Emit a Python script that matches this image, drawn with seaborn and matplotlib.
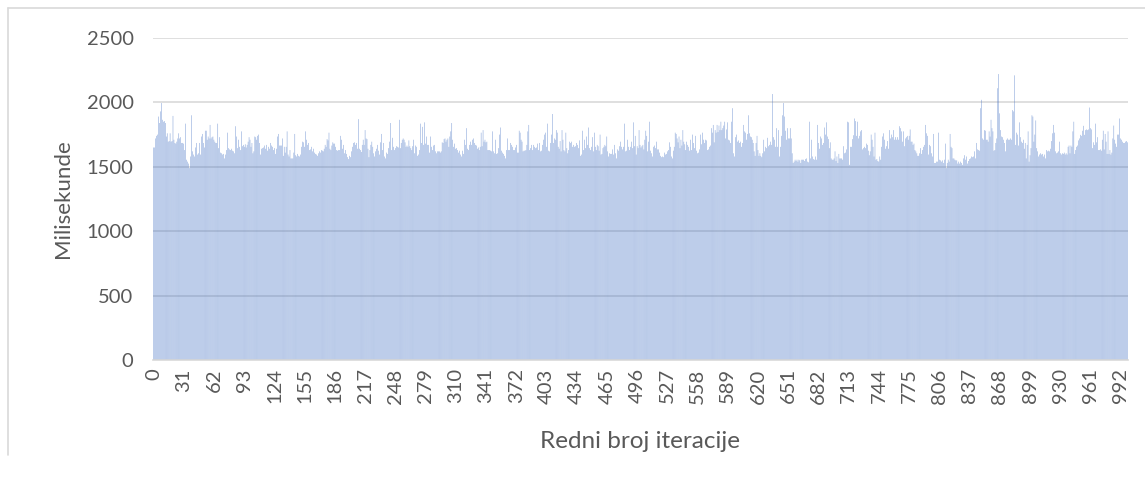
import numpy as np
import pandas as pd
import seaborn as sns
import matplotlib.pyplot as plt
from matplotlib.lines import Line2D

# milliseconds per iteration in blocks of bars
ms_000 = [1650, 1650, 1720, 1740, 1750, 1890, 1840, 1930, 1995, 1865,
          1850, 1855, 1840, 1735, 1760, 1695, 1700, 1760, 1695, 1700,
          1895, 1710, 1685, 1680, 1695, 1720, 1760, 1720, 1730, 1685,
          1685, 1680, 1630, 1835, 1555, 1540, 1525, 1490, 1580, 1900,
          1620, 1595, 1580, 1650, 1685, 1595, 1605, 1685, 1595, 1735,
          1755, 1685, 1650, 1780, 1780, 1710, 1735, 1720, 1825, 1720,
          1730, 1735, 1710, 1695, 1685, 1685, 1835, 1645, 1730, 1610,
          1605, 1595, 1600, 1565, 1595, 1630, 1765, 1645, 1635, 1630,
          1640, 1625]
ms_082 = [1620, 1605, 1815, 1735, 1645, 1710, 1655, 1630, 1775, 1660,
          1670, 1655, 1675, 1650, 1670, 1695, 1730, 1710, 1655, 1685,
          1605, 1620, 1735, 1730, 1710, 1740, 1750, 1685, 1595, 1640,
          1645, 1650, 1665, 1640, 1670, 1625, 1655, 1640, 1685, 1665,
          1655, 1630, 1645, 1600, 1640, 1735, 1755, 1665, 1665, 1665,
          1720, 1585, 1655, 1610, 1655, 1775, 1595, 1580, 1630, 1565,
          1565, 1565, 1610, 1755, 1590, 1580, 1600, 1585, 1580, 1595,
          1655, 1695, 1690, 1655, 1775, 1710, 1670, 1685, 1630, 1635,
          1655, 1620, 1640, 1610]
ms_166 = [1600, 1595, 1585, 1605, 1620, 1610, 1630, 1625, 1620, 1640,
          1670, 1655, 1715, 1705, 1765, 1640, 1630, 1665, 1690, 1680,
          1680, 1655, 1630, 1625, 1630, 1630, 1740, 1710, 1640, 1670,
          1605, 1630, 1600, 1575, 1560, 1585, 1575, 1620, 1655, 1685,
          1690, 1670, 1685, 1640, 1870, 1640, 1630, 1615, 1670, 1710,
          1670, 1785, 1720, 1715, 1640, 1575, 1630, 1670, 1695, 1655,
          1605, 1580, 1620, 1640, 1670, 1625, 1595, 1690, 1755, 1630,
          1685, 1580, 1565, 1610, 1600, 1645, 1695, 1840, 1630, 1725,
          1655, 1630, 1645, 1660]
ms_250 = [1655, 1650, 1865, 1645, 1685, 1710, 1720, 1710, 1690, 1655,
          1665, 1655, 1705, 1660, 1645, 1630, 1660, 1710, 1605, 1665,
          1655, 1585, 1595, 1630, 1835, 1685, 1810, 1670, 1845, 1680,
          1735, 1670, 1670, 1610, 1735, 1655, 1630, 1665, 1670, 1620,
          1605, 1620, 1620, 1620, 1610, 1620, 1690, 1685, 1715, 1720,
          1695, 1710, 1720, 1655, 1735, 1775, 1840, 1710, 1655, 1680,
          1640, 1645, 1630, 1610, 1625, 1595, 1580, 1625, 1600, 1710,
          1670, 1800, 1640, 1630, 1670, 1695, 1670, 1710, 1720, 1685,
          1670, 1665, 1640, 1650]
ms_334 = [1630, 1655, 1765, 1660, 1785, 1695, 1710, 1690, 1695, 1630,
          1630, 1630, 1625, 1620, 1775, 1620, 1605, 1710, 1600, 1605,
          1645, 1750, 1805, 1625, 1610, 1600, 1585, 1565, 1630, 1720,
          1630, 1630, 1685, 1670, 1655, 1630, 1630, 1650, 1670, 1610,
          1610, 1780, 1765, 1710, 1695, 1620, 1625, 1625, 1630, 1670,
          1775, 1825, 1630, 1645, 1670, 1630, 1670, 1655, 1645, 1650,
          1680, 1630, 1685, 1620, 1625, 1670, 1710, 1750, 1765, 1655,
          1835, 1625, 1620, 1685, 1750, 1910, 1685, 1720, 1710, 1785,
          1765, 1655, 1640, 1700]
ms_418 = [1620, 1785, 1710, 1630, 1620, 1765, 1645, 1605, 1630, 1695,
          1685, 1695, 1655, 1670, 1655, 1660, 1685, 1670, 1645, 1705,
          1585, 1595, 1780, 1630, 1710, 1645, 1735, 1670, 1805, 1645,
          1630, 1655, 1730, 1620, 1765, 1655, 1630, 1670, 1660, 1625,
          1750, 1595, 1600, 1645, 1655, 1670, 1660, 1735, 1620, 1580,
          1605, 1600, 1600, 1635, 1595, 1670, 1605, 1565, 1635, 1625,
          1660, 1695, 1655, 1635, 1655, 1835, 1620, 1625, 1710, 1655,
          1630, 1655, 1695, 1645, 1845, 1660, 1740, 1595, 1660, 1645,
          1785, 1670, 1650, 1660]
ms_502 = [1670, 1635, 1710, 1780, 1740, 1620, 1695, 1850, 1625, 1605,
          1580, 1655, 1665, 1645, 1695, 1635, 1635, 1610, 1585, 1575,
          1580, 1575, 1610, 1595, 1600, 1620, 1630, 1690, 1655, 1580,
          1565, 1625, 1655, 1765, 1755, 1720, 1690, 1735, 1645, 1710,
          1665, 1785, 1695, 1675, 1630, 1695, 1670, 1655, 1625, 1710,
          1630, 1750, 1685, 1645, 1740, 1625, 1605, 1610, 1635, 1750,
          1675, 1765, 1710, 1685, 1710, 1705, 1630, 1635, 1655, 1665,
          1800, 1765, 1825, 1690, 1785, 1765, 1825, 1770, 1820, 1785,
          1850, 1785, 1800, 1820]
ms_586 = [1850, 1720, 1790, 1845, 1710, 1705, 1685, 1850, 1955, 1605,
          1580, 1730, 1750, 1695, 1705, 1685, 1695, 1655, 1685, 1825,
          1775, 1765, 1710, 1755, 1900, 1760, 1735, 1730, 1710, 1685,
          1620, 1585, 1685, 1740, 1630, 1585, 1605, 1585, 1575, 1605,
          1710, 1620, 1655, 1645, 1725, 1660, 1670, 1695, 1670, 2065,
          1730, 1710, 1655, 1800, 1655, 1785, 1580, 1655, 1740, 1900,
          1995, 1890, 1780, 1710, 1800, 1720, 1720, 1800, 1720, 1605,
          1530, 1540, 1555, 1545, 1555, 1540, 1555, 1550, 1530, 1555,
          1555, 1555, 1545, 1560]
ms_670 = [1565, 1540, 1535, 1850, 1565, 1710, 1580, 1560, 1555, 1580,
          1555, 1825, 1685, 1640, 1735, 1720, 1670, 1685, 1805, 1750,
          1845, 1735, 1715, 1645, 1690, 1565, 1555, 1555, 1565, 1620,
          1545, 1580, 1530, 1600, 1565, 1565, 1565, 1555, 1660, 1605,
          1610, 1635, 1850, 1845, 1515, 1655, 1655, 1715, 1745, 1875,
          1855, 1740, 1850, 1720, 1740, 1775, 1785, 1635, 1645, 1655,
          1645, 1680, 1670, 1625, 1590, 1620, 1750, 1710, 1655, 1580,
          1765, 1555, 1560, 1545, 1540, 1580, 1555, 1655, 1735, 1760,
          1710, 1640, 1660, 1700]
ms_754 = [1640, 1785, 1720, 1750, 1730, 1785, 1710, 1730, 1710, 1730,
          1710, 1815, 1800, 1775, 1695, 1775, 1660, 1720, 1730, 1740,
          1710, 1740, 1790, 1695, 1695, 1670, 1680, 1630, 1620, 1605,
          1585, 1585, 1605, 1645, 1600, 1630, 1655, 1670, 1825, 1760,
          1740, 1595, 1670, 1660, 1605, 1580, 1755, 1530, 1530, 1540,
          1540, 1765, 1555, 1550, 1540, 1550, 1530, 1555, 1680, 1490,
          1530, 1555, 1540, 1755, 1655, 1645, 1565, 1565, 1555, 1550,
          1550, 1525, 1540, 1525, 1540, 1530, 1515, 1565, 1590, 1555,
          1580, 1525, 1545, 1560]
ms_838 = [1565, 1580, 1575, 1580, 1620, 1565, 1685, 1635, 1630, 1625,
          1955, 2020, 1720, 1710, 1785, 1780, 1710, 1710, 1695, 1775,
          1735, 1865, 1800, 1775, 1625, 1630, 1685, 1720, 2110, 2220,
          1915, 1785, 1735, 1730, 1710, 1685, 1620, 1710, 1720, 1710,
          1710, 1720, 1710, 1940, 1930, 2210, 1670, 1765, 1750, 1665,
          1845, 1730, 1695, 1685, 1710, 1640, 1685, 1565, 1670, 1775,
          1540, 1590, 1645, 1900, 1890, 1695, 1750, 1860, 1645, 1620,
          1580, 1595, 1605, 1595, 1600, 1580, 1595, 1565, 1630, 1620,
          1625, 1620, 1640, 1700]
ms_922 = [1760, 1825, 1765, 1620, 1605, 1610, 1620, 1695, 1605, 1595,
          1605, 1600, 1610, 1595, 1605, 1595, 1655, 1665, 1605, 1665,
          1655, 1775, 1850, 1600, 1630, 1655, 1665, 1705, 1720, 1748,
          1740, 1780, 1818, 1748, 1785, 1790, 1785, 1790, 1960, 1800,
          1790, 1645, 1690, 1670, 1835, 1690, 1730, 1630, 1630, 1635,
          1625, 1710, 1780, 1635, 1755, 1695, 1600, 1775, 1600, 1630,
          1595, 1610, 1720, 1820, 1710, 1680, 1655, 1750, 1750, 1875,
          1720, 1710, 1695, 1685, 1685, 1695, 1700, 1690]

blocks = [ms_000, ms_082, ms_166, ms_250, ms_334, ms_418,
          ms_502, ms_586, ms_670, ms_754, ms_838, ms_922]
ms = [v for b in blocks for v in b]
iteration = list(range(len(ms)))
tick_step = 31

df = pd.DataFrame({"iteracija": iteration, "ms": ms})

sns.set_style("white")
plt.rcParams["font.family"] = ["Lato", "DejaVu Sans"]

W, H = 1145, 479
fig = plt.figure(figsize=(W / 100, H / 100), dpi=100)
ax = fig.add_axes([153 / W, (H - 360) / H, 975 / W, 322 / H])

sns.barplot(data=df, x="iteracija", y="ms", color="#4472C4",
            saturation=1, width=0.36, ax=ax)
for p in ax.patches:
    p.set_snap(False)
    p.set_linewidth(0)

ax.set_ylim(0, 2500)
ax.set_yticks(range(0, 2501, 500))
ax.set_xticks(iteration[::tick_step])
ax.set_xticklabels([str(i) for i in iteration[::tick_step]], rotation=90)
ax.set_axisbelow(True)
ax.yaxis.grid(True, color="#d9d9d9", linewidth=1.2)
ax.xaxis.grid(False)
for s in ["top", "right", "left"]:
    ax.spines[s].set_visible(False)
ax.spines["bottom"].set_color("#d9d9d9")
ax.spines["bottom"].set_linewidth(1.2)

ax.tick_params(axis="y", length=0, pad=14, labelsize=14.5, labelcolor="#595959")
ax.tick_params(axis="x", length=0, pad=6, labelsize=14.5, labelcolor="#595959")

ax.set_xlabel("Redni broj iteracije", fontsize=17.5, color="#595959", labelpad=20)
ax.set_ylabel("Milisekunde", fontsize=16, color="#595959", labelpad=10)

# chart area border
fig.add_artist(Line2D([8 / W, 1], [1 - 8 / H, 1 - 8 / H], color="#d9d9d9",
                      linewidth=1.2, transform=fig.transFigure))
fig.add_artist(Line2D([8 / W, 8 / W], [1 - 8 / H, 1 - 455 / H], color="#d9d9d9",
                      linewidth=1.2, transform=fig.transFigure))

fig.savefig("out.png", dpi=100)
